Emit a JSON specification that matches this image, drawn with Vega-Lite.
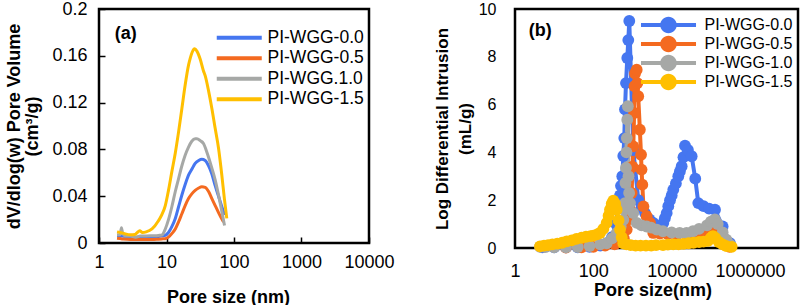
{
  "$schema": "https://vega.github.io/schema/vega-lite/v6.json",
  "background": "white",
  "padding": {"left": 3, "top": -2, "right": 0, "bottom": 0},
  "spacing": 35,
  "config": {
    "font": "Liberation Sans",
    "view": {"stroke": "black", "strokeWidth": 2.5},
    "axis": {"labelFont": "Liberation Sans", "titleFont": "Liberation Sans", "labelColor": "black", "titleColor": "black", "titleFontWeight": "bold", "grid": false, "domain": false, "labelOverlap": false, "labelFlush": false}
  },
  "datasets": {
    "a": [
      {"s": "PI-WGG-0.0", "x": 1.85, "y": 0.006}, {"s": "PI-WGG-0.0", "x": 2.2, "y": 0.006}, {"s": "PI-WGG-0.0", "x": 2.9, "y": 0.005}, {"s": "PI-WGG-0.0", "x": 3.5, "y": 0.005}, {"s": "PI-WGG-0.0", "x": 4.1, "y": 0.005}, {"s": "PI-WGG-0.0", "x": 5, "y": 0.005}, {"s": "PI-WGG-0.0", "x": 6.1, "y": 0.005}, {"s": "PI-WGG-0.0", "x": 7.6, "y": 0.0055}, {"s": "PI-WGG-0.0", "x": 8.5, "y": 0.006}, {"s": "PI-WGG-0.0", "x": 9.6, "y": 0.0066}, {"s": "PI-WGG-0.0", "x": 10.7, "y": 0.009}, {"s": "PI-WGG-0.0", "x": 12, "y": 0.014}, {"s": "PI-WGG-0.0", "x": 13.5, "y": 0.021}, {"s": "PI-WGG-0.0", "x": 15.1, "y": 0.031}, {"s": "PI-WGG-0.0", "x": 16.9, "y": 0.041}, {"s": "PI-WGG-0.0", "x": 18.9, "y": 0.05}, {"s": "PI-WGG-0.0", "x": 21.2, "y": 0.058}, {"s": "PI-WGG-0.0", "x": 23.7, "y": 0.063}, {"s": "PI-WGG-0.0", "x": 26.6, "y": 0.068}, {"s": "PI-WGG-0.0", "x": 30, "y": 0.0705}, {"s": "PI-WGG-0.0", "x": 33.4, "y": 0.0715}, {"s": "PI-WGG-0.0", "x": 37.4, "y": 0.0705}, {"s": "PI-WGG-0.0", "x": 42, "y": 0.066}, {"s": "PI-WGG-0.0", "x": 47, "y": 0.059}, {"s": "PI-WGG-0.0", "x": 52.6, "y": 0.049}, {"s": "PI-WGG-0.0", "x": 59, "y": 0.04}, {"s": "PI-WGG-0.0", "x": 66, "y": 0.031}, {"s": "PI-WGG-0.0", "x": 72.4, "y": 0.024},
      {"s": "PI-WGG-0.5", "x": 1.85, "y": 0.004}, {"s": "PI-WGG-0.5", "x": 2.2, "y": 0.0035}, {"s": "PI-WGG-0.5", "x": 2.9, "y": 0.003}, {"s": "PI-WGG-0.5", "x": 3.5, "y": 0.003}, {"s": "PI-WGG-0.5", "x": 4.1, "y": 0.003}, {"s": "PI-WGG-0.5", "x": 5, "y": 0.003}, {"s": "PI-WGG-0.5", "x": 6.1, "y": 0.003}, {"s": "PI-WGG-0.5", "x": 7.6, "y": 0.0033}, {"s": "PI-WGG-0.5", "x": 8.5, "y": 0.0035}, {"s": "PI-WGG-0.5", "x": 9.6, "y": 0.0037}, {"s": "PI-WGG-0.5", "x": 10.7, "y": 0.005}, {"s": "PI-WGG-0.5", "x": 12, "y": 0.008}, {"s": "PI-WGG-0.5", "x": 13.5, "y": 0.012}, {"s": "PI-WGG-0.5", "x": 15.1, "y": 0.018}, {"s": "PI-WGG-0.5", "x": 16.9, "y": 0.025}, {"s": "PI-WGG-0.5", "x": 18.9, "y": 0.032}, {"s": "PI-WGG-0.5", "x": 21.2, "y": 0.038}, {"s": "PI-WGG-0.5", "x": 23.7, "y": 0.042}, {"s": "PI-WGG-0.5", "x": 26.6, "y": 0.045}, {"s": "PI-WGG-0.5", "x": 30, "y": 0.047}, {"s": "PI-WGG-0.5", "x": 33.4, "y": 0.048}, {"s": "PI-WGG-0.5", "x": 37.4, "y": 0.0475}, {"s": "PI-WGG-0.5", "x": 42, "y": 0.044}, {"s": "PI-WGG-0.5", "x": 47, "y": 0.038}, {"s": "PI-WGG-0.5", "x": 52.6, "y": 0.032}, {"s": "PI-WGG-0.5", "x": 59, "y": 0.026}, {"s": "PI-WGG-0.5", "x": 64, "y": 0.022}, {"s": "PI-WGG-0.5", "x": 70, "y": 0.018},
      {"s": "PI-WGG.1.0", "x": 1.85, "y": 0.007}, {"s": "PI-WGG.1.0", "x": 2.05, "y": 0.007}, {"s": "PI-WGG.1.0", "x": 2.15, "y": 0.013}, {"s": "PI-WGG.1.0", "x": 2.25, "y": 0.008}, {"s": "PI-WGG.1.0", "x": 2.5, "y": 0.006}, {"s": "PI-WGG.1.0", "x": 2.9, "y": 0.006}, {"s": "PI-WGG.1.0", "x": 3.5, "y": 0.005}, {"s": "PI-WGG.1.0", "x": 4.1, "y": 0.006}, {"s": "PI-WGG.1.0", "x": 5, "y": 0.006}, {"s": "PI-WGG.1.0", "x": 6.1, "y": 0.0062}, {"s": "PI-WGG.1.0", "x": 7.6, "y": 0.0065}, {"s": "PI-WGG.1.0", "x": 8.55, "y": 0.0068}, {"s": "PI-WGG.1.0", "x": 9.6, "y": 0.012}, {"s": "PI-WGG.1.0", "x": 10.7, "y": 0.02}, {"s": "PI-WGG.1.0", "x": 12, "y": 0.031}, {"s": "PI-WGG.1.0", "x": 13.5, "y": 0.044}, {"s": "PI-WGG.1.0", "x": 15.1, "y": 0.055}, {"s": "PI-WGG.1.0", "x": 16.9, "y": 0.066}, {"s": "PI-WGG.1.0", "x": 18.9, "y": 0.075}, {"s": "PI-WGG.1.0", "x": 21.2, "y": 0.082}, {"s": "PI-WGG.1.0", "x": 23.7, "y": 0.087}, {"s": "PI-WGG.1.0", "x": 26.6, "y": 0.089}, {"s": "PI-WGG.1.0", "x": 28.2, "y": 0.089}, {"s": "PI-WGG.1.0", "x": 31.6, "y": 0.0875}, {"s": "PI-WGG.1.0", "x": 35.3, "y": 0.085}, {"s": "PI-WGG.1.0", "x": 40, "y": 0.077}, {"s": "PI-WGG.1.0", "x": 47, "y": 0.064}, {"s": "PI-WGG.1.0", "x": 52.6, "y": 0.054}, {"s": "PI-WGG.1.0", "x": 59, "y": 0.041}, {"s": "PI-WGG.1.0", "x": 66, "y": 0.027}, {"s": "PI-WGG.1.0", "x": 72.4, "y": 0.015},
      {"s": "PI-WGG-1.5", "x": 1.85, "y": 0.0095}, {"s": "PI-WGG-1.5", "x": 2.05, "y": 0.009}, {"s": "PI-WGG-1.5", "x": 2.4, "y": 0.008}, {"s": "PI-WGG-1.5", "x": 2.9, "y": 0.007}, {"s": "PI-WGG-1.5", "x": 3.4, "y": 0.0072}, {"s": "PI-WGG-1.5", "x": 3.7, "y": 0.009}, {"s": "PI-WGG-1.5", "x": 4.0, "y": 0.0105}, {"s": "PI-WGG-1.5", "x": 4.4, "y": 0.009}, {"s": "PI-WGG-1.5", "x": 5, "y": 0.0095}, {"s": "PI-WGG-1.5", "x": 6.1, "y": 0.012}, {"s": "PI-WGG-1.5", "x": 7.6, "y": 0.019}, {"s": "PI-WGG-1.5", "x": 8.5, "y": 0.024}, {"s": "PI-WGG-1.5", "x": 9.6, "y": 0.032}, {"s": "PI-WGG-1.5", "x": 10.7, "y": 0.045}, {"s": "PI-WGG-1.5", "x": 12, "y": 0.061}, {"s": "PI-WGG-1.5", "x": 13.5, "y": 0.077}, {"s": "PI-WGG-1.5", "x": 15.1, "y": 0.095}, {"s": "PI-WGG-1.5", "x": 16.9, "y": 0.115}, {"s": "PI-WGG-1.5", "x": 18.9, "y": 0.135}, {"s": "PI-WGG-1.5", "x": 21.2, "y": 0.152}, {"s": "PI-WGG-1.5", "x": 22.5, "y": 0.158}, {"s": "PI-WGG-1.5", "x": 24, "y": 0.163}, {"s": "PI-WGG-1.5", "x": 26.1, "y": 0.166}, {"s": "PI-WGG-1.5", "x": 28.2, "y": 0.164}, {"s": "PI-WGG-1.5", "x": 31.6, "y": 0.157}, {"s": "PI-WGG-1.5", "x": 35.3, "y": 0.147}, {"s": "PI-WGG-1.5", "x": 37.4, "y": 0.143}, {"s": "PI-WGG-1.5", "x": 42, "y": 0.13}, {"s": "PI-WGG-1.5", "x": 47, "y": 0.115}, {"s": "PI-WGG-1.5", "x": 52.6, "y": 0.098}, {"s": "PI-WGG-1.5", "x": 59, "y": 0.081}, {"s": "PI-WGG-1.5", "x": 66, "y": 0.058}, {"s": "PI-WGG-1.5", "x": 72, "y": 0.038}, {"s": "PI-WGG-1.5", "x": 78.2, "y": 0.021}
    ],
    "b": [
      {"s": "PI-WGG-0.0", "x": 5, "y": 0.03}, {"s": "PI-WGG-0.0", "x": 10, "y": 0.03}, {"s": "PI-WGG-0.0", "x": 20, "y": 0.03}, {"s": "PI-WGG-0.0", "x": 40, "y": 0.03}, {"s": "PI-WGG-0.0", "x": 80, "y": 0.05}, {"s": "PI-WGG-0.0", "x": 150, "y": 0.1}, {"s": "PI-WGG-0.0", "x": 220, "y": 0.2}, {"s": "PI-WGG-0.0", "x": 300, "y": 0.45}, {"s": "PI-WGG-0.0", "x": 380, "y": 1.0}, {"s": "PI-WGG-0.0", "x": 434, "y": 1.9}, {"s": "PI-WGG-0.0", "x": 480, "y": 2.2}, {"s": "PI-WGG-0.0", "x": 508, "y": 2.6}, {"s": "PI-WGG-0.0", "x": 549, "y": 3.0}, {"s": "PI-WGG-0.0", "x": 582, "y": 3.85}, {"s": "PI-WGG-0.0", "x": 617, "y": 4.6}, {"s": "PI-WGG-0.0", "x": 643, "y": 5.8}, {"s": "PI-WGG-0.0", "x": 682, "y": 6.9}, {"s": "PI-WGG-0.0", "x": 736, "y": 7.95}, {"s": "PI-WGG-0.0", "x": 781, "y": 8.7}, {"s": "PI-WGG-0.0", "x": 828, "y": 9.5}, {"s": "PI-WGG-0.0", "x": 1047, "y": 4.1}, {"s": "PI-WGG-0.0", "x": 1406, "y": 2.0}, {"s": "PI-WGG-0.0", "x": 1700, "y": 1.7}, {"s": "PI-WGG-0.0", "x": 2090, "y": 1.46}, {"s": "PI-WGG-0.0", "x": 2700, "y": 1.2}, {"s": "PI-WGG-0.0", "x": 3390, "y": 1.05}, {"s": "PI-WGG-0.0", "x": 4200, "y": 0.9}, {"s": "PI-WGG-0.0", "x": 5000, "y": 0.77}, {"s": "PI-WGG-0.0", "x": 5500, "y": 0.9}, {"s": "PI-WGG-0.0", "x": 6100, "y": 1.05}, {"s": "PI-WGG-0.0", "x": 6700, "y": 1.25}, {"s": "PI-WGG-0.0", "x": 7460, "y": 1.46}, {"s": "PI-WGG-0.0", "x": 8200, "y": 1.75}, {"s": "PI-WGG-0.0", "x": 9060, "y": 2.0}, {"s": "PI-WGG-0.0", "x": 10000, "y": 2.2}, {"s": "PI-WGG-0.0", "x": 11000, "y": 2.44}, {"s": "PI-WGG-0.0", "x": 12800, "y": 2.7}, {"s": "PI-WGG-0.0", "x": 14750, "y": 3.0}, {"s": "PI-WGG-0.0", "x": 16200, "y": 3.2}, {"s": "PI-WGG-0.0", "x": 18000, "y": 3.42}, {"s": "PI-WGG-0.0", "x": 20000, "y": 3.8}, {"s": "PI-WGG-0.0", "x": 21900, "y": 4.28}, {"s": "PI-WGG-0.0", "x": 26000, "y": 4.1}, {"s": "PI-WGG-0.0", "x": 32400, "y": 3.84}, {"s": "PI-WGG-0.0", "x": 40000, "y": 2.9}, {"s": "PI-WGG-0.0", "x": 47800, "y": 1.88}, {"s": "PI-WGG-0.0", "x": 65000, "y": 1.75}, {"s": "PI-WGG-0.0", "x": 90000, "y": 1.65}, {"s": "PI-WGG-0.0", "x": 127600, "y": 1.6}, {"s": "PI-WGG-0.0", "x": 200000, "y": 0.9}, {"s": "PI-WGG-0.0", "x": 308000, "y": 0.2},
      {"s": "PI-WGG-0.5", "x": 20, "y": 0.02}, {"s": "PI-WGG-0.5", "x": 50, "y": 0.03}, {"s": "PI-WGG-0.5", "x": 100, "y": 0.05}, {"s": "PI-WGG-0.5", "x": 200, "y": 0.1}, {"s": "PI-WGG-0.5", "x": 350, "y": 0.15}, {"s": "PI-WGG-0.5", "x": 500, "y": 0.25}, {"s": "PI-WGG-0.5", "x": 600, "y": 0.4}, {"s": "PI-WGG-0.5", "x": 710, "y": 0.77}, {"s": "PI-WGG-0.5", "x": 800, "y": 1.2}, {"s": "PI-WGG-0.5", "x": 865, "y": 1.6}, {"s": "PI-WGG-0.5", "x": 950, "y": 2.3}, {"s": "PI-WGG-0.5", "x": 1000, "y": 3.4}, {"s": "PI-WGG-0.5", "x": 1047, "y": 4.25}, {"s": "PI-WGG-0.5", "x": 1100, "y": 5.65}, {"s": "PI-WGG-0.5", "x": 1130, "y": 6.77}, {"s": "PI-WGG-0.5", "x": 1160, "y": 7.3}, {"s": "PI-WGG-0.5", "x": 1280, "y": 7.46}, {"s": "PI-WGG-0.5", "x": 1330, "y": 6.9}, {"s": "PI-WGG-0.5", "x": 1400, "y": 6.35}, {"s": "PI-WGG-0.5", "x": 1540, "y": 4.95}, {"s": "PI-WGG-0.5", "x": 1650, "y": 3.9}, {"s": "PI-WGG-0.5", "x": 1700, "y": 3.28}, {"s": "PI-WGG-0.5", "x": 1780, "y": 2.65}, {"s": "PI-WGG-0.5", "x": 1900, "y": 1.74}, {"s": "PI-WGG-0.5", "x": 2300, "y": 1.33}, {"s": "PI-WGG-0.5", "x": 2800, "y": 1.05}, {"s": "PI-WGG-0.5", "x": 3400, "y": 0.63}, {"s": "PI-WGG-0.5", "x": 5000, "y": 0.6}, {"s": "PI-WGG-0.5", "x": 8000, "y": 0.58}, {"s": "PI-WGG-0.5", "x": 13400, "y": 0.56}, {"s": "PI-WGG-0.5", "x": 25000, "y": 0.52}, {"s": "PI-WGG-0.5", "x": 45000, "y": 0.49}, {"s": "PI-WGG-0.5", "x": 80000, "y": 0.55}, {"s": "PI-WGG-0.5", "x": 113000, "y": 0.63}, {"s": "PI-WGG-0.5", "x": 130000, "y": 0.75}, {"s": "PI-WGG-0.5", "x": 170000, "y": 0.5}, {"s": "PI-WGG-0.5", "x": 230000, "y": 0.28}, {"s": "PI-WGG-0.5", "x": 300000, "y": 0.05},
      {"s": "PI-WGG-1.0", "x": 4.35, "y": 0.05}, {"s": "PI-WGG-1.0", "x": 6, "y": 0.04}, {"s": "PI-WGG-1.0", "x": 10, "y": 0.03}, {"s": "PI-WGG-1.0", "x": 20, "y": 0.03}, {"s": "PI-WGG-1.0", "x": 40, "y": 0.04}, {"s": "PI-WGG-1.0", "x": 80, "y": 0.08}, {"s": "PI-WGG-1.0", "x": 150, "y": 0.15}, {"s": "PI-WGG-1.0", "x": 219, "y": 0.2}, {"s": "PI-WGG-1.0", "x": 300, "y": 0.4}, {"s": "PI-WGG-1.0", "x": 395, "y": 0.63}, {"s": "PI-WGG-1.0", "x": 500, "y": 0.9}, {"s": "PI-WGG-1.0", "x": 582, "y": 1.18}, {"s": "PI-WGG-1.0", "x": 620, "y": 1.6}, {"s": "PI-WGG-1.0", "x": 643, "y": 1.88}, {"s": "PI-WGG-1.0", "x": 660, "y": 2.72}, {"s": "PI-WGG-1.0", "x": 680, "y": 3.35}, {"s": "PI-WGG-1.0", "x": 700, "y": 4.0}, {"s": "PI-WGG-1.0", "x": 715, "y": 4.6}, {"s": "PI-WGG-1.0", "x": 735, "y": 5.37}, {"s": "PI-WGG-1.0", "x": 760, "y": 5.93}, {"s": "PI-WGG-1.0", "x": 790, "y": 3.0}, {"s": "PI-WGG-1.0", "x": 820, "y": 2.3}, {"s": "PI-WGG-1.0", "x": 865, "y": 1.88}, {"s": "PI-WGG-1.0", "x": 1047, "y": 1.46}, {"s": "PI-WGG-1.0", "x": 1280, "y": 1.05}, {"s": "PI-WGG-1.0", "x": 1700, "y": 0.95}, {"s": "PI-WGG-1.0", "x": 2300, "y": 0.9}, {"s": "PI-WGG-1.0", "x": 3000, "y": 0.85}, {"s": "PI-WGG-1.0", "x": 4170, "y": 0.77}, {"s": "PI-WGG-1.0", "x": 6000, "y": 0.7}, {"s": "PI-WGG-1.0", "x": 10000, "y": 0.65}, {"s": "PI-WGG-1.0", "x": 16000, "y": 0.63}, {"s": "PI-WGG-1.0", "x": 24000, "y": 0.63}, {"s": "PI-WGG-1.0", "x": 35000, "y": 0.7}, {"s": "PI-WGG-1.0", "x": 50000, "y": 0.8}, {"s": "PI-WGG-1.0", "x": 80000, "y": 0.95}, {"s": "PI-WGG-1.0", "x": 100000, "y": 1.1}, {"s": "PI-WGG-1.0", "x": 127000, "y": 1.2}, {"s": "PI-WGG-1.0", "x": 150000, "y": 1.0}, {"s": "PI-WGG-1.0", "x": 200000, "y": 0.65}, {"s": "PI-WGG-1.0", "x": 250000, "y": 0.35}, {"s": "PI-WGG-1.0", "x": 308000, "y": 0.14},
      {"s": "PI-WGG-1.5", "x": 4.35, "y": 0.07}, {"s": "PI-WGG-1.5", "x": 5.5, "y": 0.1}, {"s": "PI-WGG-1.5", "x": 7, "y": 0.12}, {"s": "PI-WGG-1.5", "x": 9, "y": 0.15}, {"s": "PI-WGG-1.5", "x": 12, "y": 0.18}, {"s": "PI-WGG-1.5", "x": 16, "y": 0.22}, {"s": "PI-WGG-1.5", "x": 21, "y": 0.28}, {"s": "PI-WGG-1.5", "x": 28, "y": 0.32}, {"s": "PI-WGG-1.5", "x": 37, "y": 0.38}, {"s": "PI-WGG-1.5", "x": 50, "y": 0.43}, {"s": "PI-WGG-1.5", "x": 65, "y": 0.47}, {"s": "PI-WGG-1.5", "x": 85, "y": 0.5}, {"s": "PI-WGG-1.5", "x": 100, "y": 0.52}, {"s": "PI-WGG-1.5", "x": 125, "y": 0.57}, {"s": "PI-WGG-1.5", "x": 148, "y": 0.63}, {"s": "PI-WGG-1.5", "x": 180, "y": 0.8}, {"s": "PI-WGG-1.5", "x": 219, "y": 1.05}, {"s": "PI-WGG-1.5", "x": 245, "y": 1.35}, {"s": "PI-WGG-1.5", "x": 266, "y": 1.6}, {"s": "PI-WGG-1.5", "x": 295, "y": 1.85}, {"s": "PI-WGG-1.5", "x": 323, "y": 1.98}, {"s": "PI-WGG-1.5", "x": 360, "y": 1.85}, {"s": "PI-WGG-1.5", "x": 395, "y": 1.6}, {"s": "PI-WGG-1.5", "x": 440, "y": 1.15}, {"s": "PI-WGG-1.5", "x": 480, "y": 0.77}, {"s": "PI-WGG-1.5", "x": 530, "y": 0.45}, {"s": "PI-WGG-1.5", "x": 582, "y": 0.2}, {"s": "PI-WGG-1.5", "x": 700, "y": 0.15}, {"s": "PI-WGG-1.5", "x": 900, "y": 0.12}, {"s": "PI-WGG-1.5", "x": 1200, "y": 0.1}, {"s": "PI-WGG-1.5", "x": 1600, "y": 0.1}, {"s": "PI-WGG-1.5", "x": 2200, "y": 0.1}, {"s": "PI-WGG-1.5", "x": 3000, "y": 0.1}, {"s": "PI-WGG-1.5", "x": 4000, "y": 0.12}, {"s": "PI-WGG-1.5", "x": 6000, "y": 0.12}, {"s": "PI-WGG-1.5", "x": 8000, "y": 0.14}, {"s": "PI-WGG-1.5", "x": 11000, "y": 0.15}, {"s": "PI-WGG-1.5", "x": 15000, "y": 0.15}, {"s": "PI-WGG-1.5", "x": 20000, "y": 0.17}, {"s": "PI-WGG-1.5", "x": 27000, "y": 0.2}, {"s": "PI-WGG-1.5", "x": 36000, "y": 0.22}, {"s": "PI-WGG-1.5", "x": 50000, "y": 0.25}, {"s": "PI-WGG-1.5", "x": 65000, "y": 0.27}, {"s": "PI-WGG-1.5", "x": 85000, "y": 0.3}, {"s": "PI-WGG-1.5", "x": 100000, "y": 0.42}, {"s": "PI-WGG-1.5", "x": 113000, "y": 0.5}, {"s": "PI-WGG-1.5", "x": 130000, "y": 0.42}, {"s": "PI-WGG-1.5", "x": 160000, "y": 0.25}, {"s": "PI-WGG-1.5", "x": 200000, "y": 0.15}, {"s": "PI-WGG-1.5", "x": 250000, "y": 0.08}, {"s": "PI-WGG-1.5", "x": 340000, "y": 0.05}
    ],
    "la": [{"x": 2.5, "y": 0.179, "t": "(a)"}],
    "lb": [{"x": 4.4, "y": 9.08, "t": "(b)"}]
  },
  "hconcat": [
    {
      "name": "pa",
      "width": 270,
      "height": 234,
      "layer": [
        {
          "data": {"name": "a"},
          "mark": {"type": "line", "strokeWidth": 3, "interpolate": "monotone"},
          "encoding": {
            "x": {"field": "x", "type": "quantitative",
              "scale": {"type": "log", "domain": [1, 10000], "nice": false},
              "axis": {"values": [1, 10, 100, 1000, 10000], "format": "d", "labelFontSize": 18, "tickSize": -6, "tickColor": "black", "tickWidth": 1.5, "labelPadding": 16, "title": "Pore size (nm)", "titleFontSize": 18, "titleX": 129, "titleY": 54, "titleBaseline": "middle", "titleAlign": "center"}},
            "y": {"field": "y", "type": "quantitative",
              "scale": {"domain": [0, 0.2], "nice": false},
              "axis": {"values": [0, 0.04, 0.08, 0.12, 0.16, 0.2], "format": ".2~f", "labelFontSize": 18, "tickSize": -6, "tickColor": "black", "tickWidth": 1.5, "labelPadding": 18, "title": ["dV/dlog(w) Pore Volume", "(cm³/g)"], "titleFontSize": 18, "titleLineHeight": 18, "titleX": -85, "titleBaseline": "middle", "titleAlign": "center", "titleAngle": -90}},
            "color": {"field": "s", "type": "nominal",
              "scale": {"domain": ["PI-WGG-0.0", "PI-WGG-0.5", "PI-WGG.1.0", "PI-WGG-1.5"], "range": ["#4576F0", "#F46A20", "#A6A8A6", "#FFBF00"]},
              "legend": {"orient": "none", "legendX": 131.5, "legendY": 20, "title": null, "labelFontSize": 17.5, "labelFont": "Liberation Sans", "labelColor": "black", "symbolType": "M-4.5,0L4.5,0", "symbolSize": 100, "symbolStrokeWidth": 4, "labelOffset": 19.5, "rowPadding": 1.5, "padding": 0}}
          }
        },
        {
          "data": {"name": "la"},
          "mark": {"type": "text", "fontSize": 18, "fontWeight": "bold", "font": "Liberation Sans", "color": "black", "align": "center", "baseline": "middle"},
          "encoding": {
            "x": {"field": "x", "type": "quantitative"},
            "y": {"field": "y", "type": "quantitative"},
            "text": {"field": "t"}
          }
        }
      ]
    },
    {
      "name": "pb",
      "width": 283,
      "height": 239,
      "layer": [
        {
          "data": {"name": "b"},
          "mark": {"type": "line", "strokeWidth": 4},
          "encoding": {
            "x": {"field": "x", "type": "quantitative",
              "scale": {"type": "log", "domain": [1, 16800000], "nice": false},
              "axis": {"values": [1, 100, 10000, 1000000], "format": "d", "labelFontSize": 18, "ticks": false, "labelPadding": 14, "title": "Pore size(nm)", "titleFontSize": 18, "titleX": 137.5, "titleY": 42, "titleBaseline": "middle", "titleAlign": "center"}},
            "y": {"field": "y", "type": "quantitative",
              "scale": {"domain": [0, 10], "nice": false},
              "axis": {"values": [0, 2, 4, 6, 8, 10], "labelFontSize": 16, "ticks": false, "labelPadding": 19, "title": ["Log Differential Intrusion", "(mL/g)"], "titleFontSize": 17, "titleLineHeight": 23, "titleX": -73, "titleBaseline": "middle", "titleAlign": "center", "titleAngle": -90}},
            "color": {"field": "s", "type": "nominal",
              "scale": {"domain": ["PI-WGG-0.0", "PI-WGG-0.5", "PI-WGG-1.0", "PI-WGG-1.5"], "range": ["#4576F0", "#F46A20", "#A6A8A6", "#FFBF00"]},
              "legend": {"orient": "none", "legendX": 145.5, "legendY": 8, "title": null, "labelFontSize": 16, "labelFont": "Liberation Sans", "labelColor": "black", "symbolType": "M-3.67,-0.27L-1,-0.27L-1,0.27L-3.67,0.27Z M1,-0.27L3.67,-0.27L3.67,0.27L1,0.27Z M1.1,0A1.1,1.1,0,1,1,-1.1,0A1.1,1.1,0,1,1,1.1,0Z", "symbolSize": 225, "symbolStrokeWidth": 0, "labelOffset": 28, "rowPadding": 1, "padding": 0,
                "encode": {"symbols": {"update": {
                  "fill": {"signal": "datum.value === 'PI-WGG-0.0' ? '#4576F0' : datum.value === 'PI-WGG-0.5' ? '#F46A20' : datum.value === 'PI-WGG-1.0' ? '#A6A8A6' : '#FFBF00'"},
                  "fillOpacity": {"value": 1},
                  "opacity": {"value": 1}
                }}}}}
          }
        },
        {
          "data": {"name": "b"},
          "mark": {"type": "point", "filled": true, "size": 140, "opacity": 1, "strokeWidth": 0},
          "encoding": {
            "x": {"field": "x", "type": "quantitative"},
            "y": {"field": "y", "type": "quantitative"},
            "color": {"field": "s", "type": "nominal",
              "legend": {"orient": "none", "legendX": 145.5, "legendY": 8, "title": null, "labelFontSize": 16, "labelFont": "Liberation Sans", "labelColor": "black", "symbolType": "M-3.67,-0.27L-1,-0.27L-1,0.27L-3.67,0.27Z M1,-0.27L3.67,-0.27L3.67,0.27L1,0.27Z M1.1,0A1.1,1.1,0,1,1,-1.1,0A1.1,1.1,0,1,1,1.1,0Z", "symbolSize": 225, "symbolStrokeWidth": 0, "labelOffset": 28, "rowPadding": 1, "padding": 0,
                "encode": {"symbols": {"update": {
                  "fill": {"signal": "datum.value === 'PI-WGG-0.0' ? '#4576F0' : datum.value === 'PI-WGG-0.5' ? '#F46A20' : datum.value === 'PI-WGG-1.0' ? '#A6A8A6' : '#FFBF00'"},
                  "fillOpacity": {"value": 1},
                  "opacity": {"value": 1}
                }}}}}
          }
        },
        {
          "data": {"name": "lb"},
          "mark": {"type": "text", "fontSize": 18, "fontWeight": "bold", "font": "Liberation Sans", "color": "black", "align": "center", "baseline": "middle"},
          "encoding": {
            "x": {"field": "x", "type": "quantitative"},
            "y": {"field": "y", "type": "quantitative"},
            "text": {"field": "t"}
          }
        }
      ]
    }
  ],
  "resolve": {"scale": {"x": "independent", "y": "independent", "color": "independent"}, "legend": {"color": "independent"}}
}
